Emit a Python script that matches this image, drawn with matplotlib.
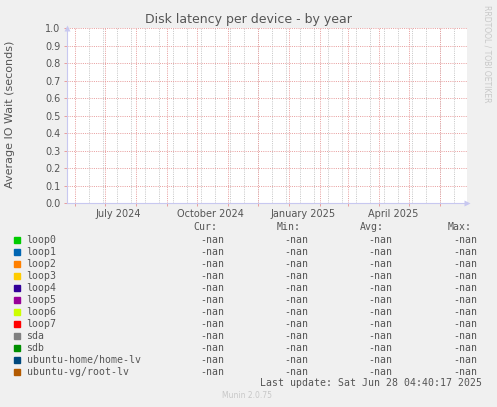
#!/usr/bin/env python3
"""Munin style 'Disk latency per device - by year' chart, redrawn with matplotlib."""

import numpy as np
import pandas as pd
from matplotlib import pyplot as plt

# data
devices = ['loop0', 'loop1', 'loop2', 'loop3', 'loop4', 'loop5', 'loop6',
           'loop7', 'sda', 'sdb', 'ubuntu-home/home-lv', 'ubuntu-vg/root-lv']
colors = ['#00CC00', '#0066B3', '#FF8000', '#FFCC00', '#330099', '#990099',
          '#CCFF00', '#FF0000', '#808080', '#008F00', '#00487D', '#B35A00']
cur = [np.nan] * len(devices)
vmin = [np.nan] * len(devices)
vavg = [np.nan] * len(devices)
vmax = [np.nan] * len(devices)
end_time = pd.Timestamp('2025-06-28 04:40:17')
start_time = end_time - pd.Timedelta(days=400)
label_dates = pd.to_datetime(['2024-07-15', '2024-10-15', '2025-01-15', '2025-04-15'])
label_texts = ['July 2024', 'October 2024', 'January 2025', 'April 2025']
y_ticks = np.round(np.arange(0, 1.01, 0.1), 1)

BG = '#F0F0F0'
TXT = '#555555'
RED = '#E8A0A0'
GRAY = '#C8C8C8'
AXC = '#C8C8F0'

W, H = 497, 407
fig = plt.figure(figsize=(W / 100, H / 100), dpi=100, facecolor=BG)
ax = fig.add_axes((66.5 / W, 1 - 203.3 / H, (467 - 66.5) / W, (203.3 - 28.3) / H))
ax.set_facecolor('white')

# series (all values unknown -> nothing visible)
times = pd.date_range(start_time, end_time, periods=len(devices) + 1)
for name, col, val in zip(devices, colors, cur):
    ax.plot(times, [val] * len(times), color=col, lw=1)

ax.set_xlim(start_time, end_time)
ax.set_ylim(0, 1.0)

# grid: biweekly gray, monthly red, horizontal red
biweek = pd.date_range('2024-06-16', end_time, freq='14D')
months = pd.date_range(start_time, end_time, freq='MS')
grid_kw = dict(lw=0.72, ls=(0, (1, 1.2)), zorder=0, snap=True)
for d in biweek:
    ax.axvline(d, color=GRAY, **grid_kw)
for d in months:
    ax.axvline(d, color=RED, **grid_kw)
for y in y_ticks[1:]:
    ax.axhline(y, color=RED, **grid_kw)

for s in ['top', 'right']:
    ax.spines[s].set_visible(False)
for s in ['left', 'bottom']:
    ax.spines[s].set_color(AXC)
    ax.spines[s].set_linewidth(0.8)

ax.set_yticks(y_ticks)
ax.set_yticklabels([f'{v:.1f}' for v in y_ticks])
ax.tick_params(axis='y', length=2.5, width=0.72, color=RED, labelsize=7,
               labelcolor=TXT, pad=2)
ax.set_xticks(label_dates)
ax.set_xticklabels(label_texts)
ax.set_xticks(months, minor=True)
ax.tick_params(axis='x', which='major', length=0, labelsize=7, labelcolor=TXT, pad=4)
ax.tick_params(axis='x', which='minor', length=2.5, width=0.72, color=RED)

# axis arrows
ax.plot([0], [1.0], marker='^', ms=5, color=AXC, transform=ax.transAxes,
        clip_on=False, mec='none')
ax.plot([1.0], [0], marker='>', ms=5, color=AXC, transform=ax.transAxes,
        clip_on=False, mec='none')

fig.text(10 / W, 1 - 114 / H, 'Average IO Wait (seconds)', rotation=90,
         ha='center', va='center', fontsize=8, color=TXT)
fig.text(248 / W, 1 - 19 / H, 'Disk latency per device - by year', ha='center',
         va='center', fontsize=9, color=TXT)
fig.text(487 / W, 1 - 5 / H, 'RRDTOOL / TOBI OETIKER', rotation=270, ha='center',
         va='top', fontsize=5.5, color='#C8C8C8')

# legend table
mono = 'DejaVu Sans Mono'
fs = 7.1
col_right = [224, 308, 392, 477]
fig.text(217 / W, 1 - 227 / H, 'Cur:', ha='right', va='center', family=mono,
         fontsize=fs, color=TXT)
fig.text(301 / W, 1 - 227 / H, 'Min:', ha='right', va='center', family=mono,
         fontsize=fs, color=TXT)
fig.text(384 / W, 1 - 227 / H, 'Avg:', ha='right', va='center', family=mono,
         fontsize=fs, color=TXT)
fig.text(472 / W, 1 - 227 / H, 'Max:', ha='right', va='center', family=mono,
         fontsize=fs, color=TXT)

for i, (name, col) in enumerate(zip(devices, colors)):
    y = 239.7 + i * 12
    fig.patches.append(plt.Rectangle((14 / W, 1 - (y + 3) / H), 6 / W, 6 / H,
                                     transform=fig.transFigure, color=col))
    fig.text(26.5 / W, 1 - y / H, name, ha='left', va='center', family=mono,
             fontsize=fs, color=TXT)
    for x, v in zip(col_right, [cur[i], vmin[i], vavg[i], vmax[i]]):
        s = '-nan' if np.isnan(v) else f'{v:.2f}'
        fig.text(x / W, 1 - y / H, s, ha='right', va='center', family=mono,
                 fontsize=fs, color=TXT)

fig.text(482 / W, 1 - 383 / H, 'Last update: Sat Jun 28 04:40:17 2025',
         ha='right', va='center', family=mono, fontsize=fs, color=TXT)
fig.text(247 / W, 1 - 396 / H, 'Munin 2.0.75', ha='center', va='center',
         fontsize=5.5, color='#C8C8C8')

fig.savefig('out.png', dpi=100, facecolor=BG)
